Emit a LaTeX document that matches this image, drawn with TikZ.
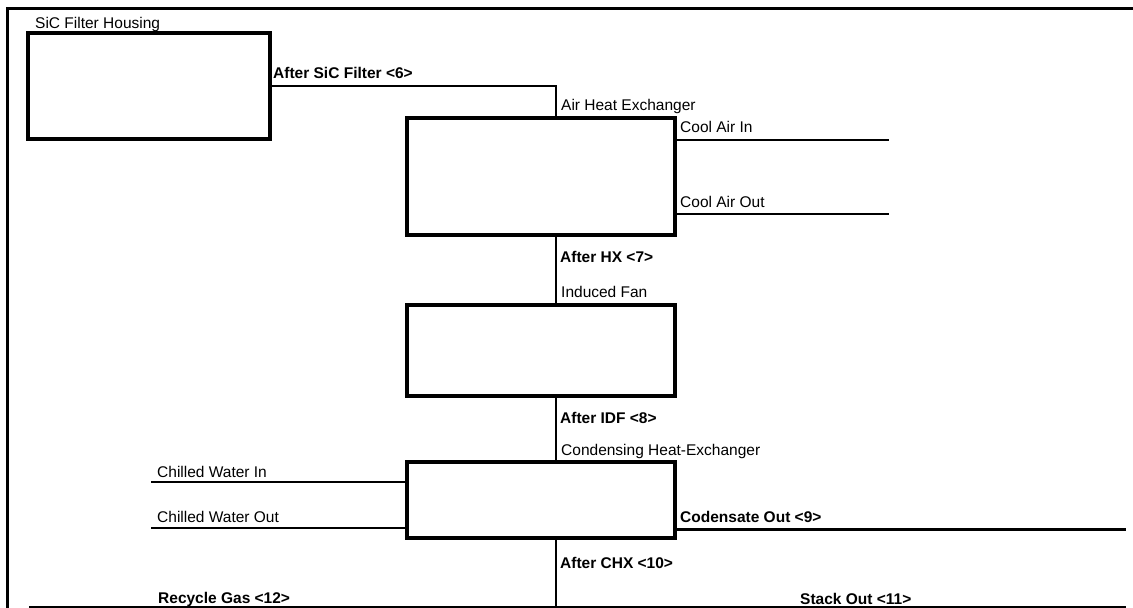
\documentclass[tikz,border=0pt]{standalone}
\usepackage{fontspec}
\setmainfont{Liberation Sans}
\begin{document}
\begin{tikzpicture}[x=1pt,y=-1pt,
  unit/.style={draw,line width=3.2pt,rectangle,inner sep=0pt,minimum width=268pt},
  conn/.style={line width=2pt},
  thinline/.style={line width=1.7pt},
  thickline/.style={line width=3pt},
  frameline/.style={line width=3pt},
  lbl/.style={anchor=west,inner sep=0pt,font=\fontsize{15.5}{18}\selectfont},
  blbl/.style={anchor=west,inner sep=0pt,font=\fontsize{15.5}{18}\selectfont\bfseries}]
\useasboundingbox (0,0) rectangle (1133,608);
% frame
\coordinate (fTL) at (7,8);
\coordinate (fTR) at (1133,8);
\coordinate (fBL) at (7,608);
\draw[frameline] (fTR) -- (fTL) -- (fBL);
% trunk
\coordinate (trunk) at (556,0);
% units
\node[unit,minimum width=242pt,minimum height=106pt] (sic) at (149,86) {};
\node[unit,minimum height=117pt] (ahx) at (541,176.5) {};
\node[unit,minimum height=91pt] (idf) at (541,350.5) {};
\node[unit,minimum height=76pt] (chx) at (541,500) {};
% free ends
\coordinate (cai) at (889,140);
\coordinate (cao) at (889,214);
\coordinate (cwi) at (151,482);
\coordinate (cwo) at (151,528);
\coordinate (cond) at (1126,529);
\coordinate (botL) at (29,607);
\coordinate (botR) at (1126,607);
% connectors
\draw[conn] (sic.east) -| (trunk |- ahx.north);
\draw[conn] (trunk |- ahx.south) -- (trunk |- idf.north);
\draw[conn] (trunk |- idf.south) -- (trunk |- chx.north);
\draw[conn] (trunk |- chx.south) -- (trunk |- botL);
\draw[thinline] (ahx.east |- cai) -- (cai);
\draw[thinline] (ahx.east |- cao) -- (cao);
\draw[thinline] (cwi) -- (chx.west |- cwi);
\draw[thinline] (cwo) -- (chx.west |- cwo);
\draw[thickline] (chx.east |- cond) -- (cond);
\draw[thinline] (botL) -- (botR);
% labels
\node[lbl] (tSiC) at (35,24) {SiC Filter Housing};
\node[blbl] (t6) at (273,73) {After SiC Filter <6>};
\node[lbl] (tAHX) at (561,106) {Air Heat Exchanger};
\node[lbl] (tCAI) at (680,127) {Cool Air In};
\node[lbl] (tCAO) at (680,202) {Cool Air Out};
\node[blbl] (t7) at (560,257) {After HX <7>};
\node[lbl] (tIDF) at (561,292) {Induced Fan};
\node[blbl] (t8) at (560,418) {After IDF <8>};
\node[lbl] (tCHX) at (561,451) {Condensing Heat-Exchanger};
\node[lbl] (tCWI) at (157,472) {Chilled Water In};
\node[lbl] (tCWO) at (157,517) {Chilled Water Out};
\node[blbl] (t9) at (680,517) {Codensate Out <9>};
\node[blbl] (t10) at (560,563) {After CHX <10>};
\node[blbl] (t12) at (158,599) {Recycle Gas <12>};
\node[blbl] (t11) at (800,599) {Stack Out <11>};
\end{tikzpicture}
\end{document}
